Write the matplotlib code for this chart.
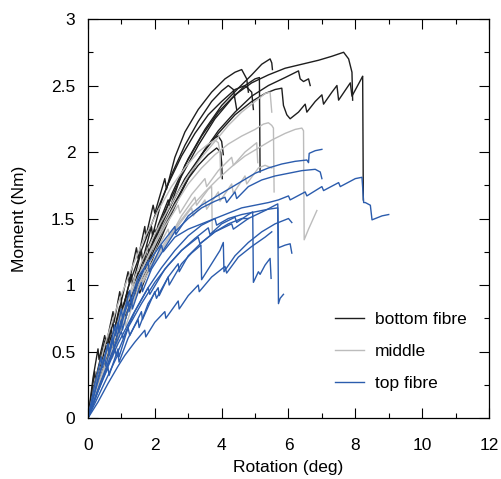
import matplotlib
matplotlib.use("Agg")
import matplotlib.pyplot as plt
from matplotlib.ticker import MultipleLocator, FuncFormatter

plt.rcParams['font.family'] = ['Liberation Sans', 'DejaVu Sans']
plt.rcParams['font.size'] = 12.5

# bottom fibre curves (rotation deg, moment Nm)
b1_x = [0, 0.2, 0.45, 0.48, 0.7, 0.73, 0.95, 0.98, 1.2, 1.23, 1.5, 1.53, 1.8, 1.84, 2.1, 2.4, 2.45, 2.9, 3.4, 3.9, 4.4, 4.9, 5.4, 5.9, 6.4, 6.9, 7.3, 7.65, 7.8, 7.9, 7.92]
b1_y = [0, 0.25, 0.5, 0.42, 0.62, 0.55, 0.78, 0.7, 0.92, 0.85, 1.1, 1.02, 1.3, 1.22, 1.45, 1.64, 1.58, 1.9, 2.12, 2.3, 2.43, 2.52, 2.58, 2.63, 2.66, 2.69, 2.72, 2.75, 2.7, 2.6, 2.39]
b2_x = [0, 0.15, 0.3, 0.33, 0.5, 0.55, 0.75, 0.78, 0.95, 1.0, 1.2, 1.23, 1.45, 1.5, 1.7, 1.73, 1.95, 2.0, 2.3, 2.35, 2.6, 2.9, 3.3, 3.7, 4.1, 4.4, 4.6, 4.75, 4.8]
b2_y = [0, 0.3, 0.52, 0.44, 0.62, 0.56, 0.8, 0.72, 0.95, 0.88, 1.1, 1.02, 1.28, 1.2, 1.44, 1.36, 1.6, 1.54, 1.8, 1.72, 1.96, 2.15, 2.32, 2.45, 2.55, 2.6, 2.62, 2.55, 2.45]
b3_x = [0, 0.25, 0.5, 0.55, 0.9, 1.2, 1.25, 1.6, 2.0, 2.05, 2.5, 3.0, 3.5, 4.0, 4.5, 4.9, 5.2, 5.45, 5.5, 5.52]
b3_y = [0, 0.28, 0.52, 0.46, 0.74, 0.95, 0.89, 1.15, 1.42, 1.36, 1.68, 1.95, 2.17, 2.35, 2.48, 2.58, 2.66, 2.7, 2.67, 2.62]
b4_x = [0, 0.3, 0.6, 0.63, 0.85, 0.88, 1.1, 1.13, 1.4, 1.43, 1.7, 1.73, 2.0, 2.4, 2.9, 3.4, 3.9, 4.4, 4.9, 5.3, 5.6, 5.8, 5.85, 5.95, 6.05, 6.3, 6.5, 6.55, 6.8, 7.0, 7.05, 7.3, 7.45, 7.5, 7.85, 7.9, 8.2, 8.22, 8.24]
b4_y = [0, 0.3, 0.55, 0.47, 0.68, 0.6, 0.82, 0.75, 1.0, 0.92, 1.18, 1.1, 1.34, 1.56, 1.8, 1.98, 2.14, 2.28, 2.38, 2.44, 2.47, 2.48, 2.35, 2.28, 2.25, 2.3, 2.36, 2.3, 2.38, 2.43, 2.36, 2.45, 2.5, 2.39, 2.52, 2.42, 2.56, 2.57, 1.64]
b5_x = [0, 0.2, 0.4, 0.45, 0.8, 1.1, 1.15, 1.5, 1.9, 2.3, 2.8, 3.3, 3.8, 4.3, 4.7, 5.0, 5.13, 5.15]
b5_y = [0, 0.22, 0.45, 0.4, 0.66, 0.86, 0.8, 1.05, 1.3, 1.55, 1.82, 2.05, 2.25, 2.4, 2.5, 2.55, 2.56, 1.85]
b6_x = [0, 0.3, 0.35, 0.7, 1.0, 1.05, 1.4, 1.8, 2.2, 2.6, 3.0, 3.3, 3.6, 3.85, 3.97, 4.0, 4.02]
b6_y = [0, 0.3, 0.26, 0.55, 0.76, 0.7, 0.95, 1.2, 1.42, 1.62, 1.8, 1.9, 1.98, 2.03, 2.0, 1.92, 1.8]
b7_x = [0, 0.25, 0.5, 0.53, 0.75, 0.78, 1.0, 1.03, 1.3, 1.33, 1.6, 1.63, 1.9, 1.93, 2.2, 2.5, 2.9, 3.3, 3.7, 4.0, 4.2, 4.35, 4.45]
b7_y = [0, 0.32, 0.58, 0.5, 0.72, 0.64, 0.88, 0.8, 1.08, 1.0, 1.26, 1.18, 1.44, 1.37, 1.63, 1.83, 2.05, 2.23, 2.38, 2.46, 2.5, 2.47, 2.32]
b8_x = [0, 0.35, 0.7, 0.75, 1.1, 1.5, 1.55, 2.0, 2.4, 2.8, 3.2, 3.5, 3.75, 3.9, 4.0, 4.05]
b8_y = [0, 0.28, 0.55, 0.48, 0.75, 1.0, 0.94, 1.24, 1.48, 1.7, 1.9, 2.02, 2.1, 2.12, 2.08, 1.98]
b9_x = [0, 0.3, 0.6, 0.65, 1.0, 1.4, 1.45, 1.9, 2.4, 2.9, 3.4, 3.9, 4.4, 4.9, 5.4, 5.9, 6.3, 6.35, 6.45, 6.6, 6.65]
b9_y = [0, 0.26, 0.5, 0.45, 0.72, 0.98, 0.92, 1.22, 1.5, 1.76, 1.98, 2.16, 2.3, 2.42, 2.5, 2.56, 2.61, 2.55, 2.53, 2.55, 2.5]
b10_x = [0, 0.2, 0.23, 0.45, 0.48, 0.7, 0.73, 0.95, 0.98, 1.2, 1.6, 2.0, 2.4, 2.8, 3.2, 3.6, 4.0, 4.4, 4.7, 4.9, 4.95]
b10_y = [0, 0.35, 0.28, 0.5, 0.43, 0.68, 0.6, 0.84, 0.76, 0.98, 1.26, 1.52, 1.76, 1.97, 2.14, 2.28, 2.38, 2.47, 2.5, 2.45, 2.32]

# middle curves
g1_x = [0, 0.3, 0.6, 0.65, 1.0, 1.4, 1.8, 2.2, 2.6, 3.0, 3.4, 3.8, 4.2, 4.6, 5.0, 5.25, 5.4, 5.5, 5.55, 5.57]
g1_y = [0, 0.3, 0.55, 0.5, 0.76, 1.0, 1.22, 1.42, 1.6, 1.76, 1.88, 1.98, 2.06, 2.12, 2.17, 2.21, 2.22, 2.2, 2.18, 1.7]
g2_x = [0, 0.35, 0.7, 0.73, 1.1, 1.13, 1.5, 1.9, 2.3, 2.7, 3.1, 3.5, 3.9, 4.3, 4.7, 5.1, 5.5, 5.9, 6.2, 6.4, 6.45, 6.47, 6.6, 6.85]
g2_y = [0, 0.28, 0.52, 0.45, 0.76, 0.69, 0.98, 1.16, 1.32, 1.46, 1.59, 1.7, 1.8, 1.89, 1.97, 2.03, 2.09, 2.14, 2.17, 2.18, 2.16, 1.34, 1.42, 1.56]
g3_x = [0, 0.3, 0.6, 0.63, 1.0, 1.03, 1.4, 1.8, 2.2, 2.6, 3.0, 3.4, 3.8, 4.2, 4.6, 5.0, 5.3, 5.45, 5.5]
g3_y = [0, 0.3, 0.55, 0.48, 0.82, 0.75, 1.06, 1.28, 1.48, 1.66, 1.82, 1.96, 2.08, 2.2, 2.3, 2.38, 2.44, 2.45, 2.3]
g4_x = [0, 0.4, 0.8, 1.2, 1.6, 2.0, 2.4, 2.45, 2.8, 3.2, 3.25, 3.6, 3.7, 3.72]
g4_y = [0, 0.32, 0.6, 0.84, 1.05, 1.24, 1.42, 1.36, 1.52, 1.66, 1.6, 1.72, 1.74, 1.4]
g5_x = [0, 0.3, 0.7, 1.1, 1.5, 1.9, 2.3, 2.7, 2.75, 3.1, 3.5, 3.55, 3.9, 4.3, 4.35, 4.7, 5.0, 5.05, 5.08]
g5_y = [0, 0.28, 0.58, 0.84, 1.06, 1.26, 1.44, 1.6, 1.54, 1.68, 1.8, 1.74, 1.86, 1.96, 1.9, 2.0, 2.06, 2.07, 1.92]
g6_x = [0, 0.25, 0.5, 0.9, 1.3, 1.7, 2.1, 2.5, 2.9, 3.3, 3.6, 3.8, 3.9, 3.95, 3.97]
g6_y = [0, 0.3, 0.55, 0.86, 1.12, 1.36, 1.56, 1.74, 1.88, 2.0, 2.06, 2.09, 2.07, 2.0, 1.82]
g7_x = [0, 0.4, 0.8, 1.2, 1.6, 2.0, 2.4, 2.8, 3.1, 3.15, 3.5, 3.55, 3.9, 3.95, 4.3, 4.35, 4.7, 4.75, 5.1, 5.3, 5.5]
g7_y = [0, 0.3, 0.56, 0.8, 1.0, 1.18, 1.34, 1.48, 1.58, 1.52, 1.64, 1.57, 1.7, 1.63, 1.76, 1.69, 1.82, 1.76, 1.88, 1.9, 1.88]

# top fibre curves
t1_x = [0, 0.2, 0.4, 0.43, 0.6, 0.63, 0.8, 0.83, 1.0, 1.03, 1.25, 1.28, 1.5, 1.8, 2.2, 2.6, 2.63, 3.0, 3.4, 3.8, 4.2, 4.6, 5.0, 5.4, 5.8, 6.2, 6.55, 6.6, 6.62, 6.8, 7.0]
t1_y = [0, 0.25, 0.46, 0.38, 0.56, 0.49, 0.7, 0.62, 0.82, 0.75, 0.96, 0.88, 1.06, 1.17, 1.31, 1.44, 1.38, 1.52, 1.6, 1.66, 1.72, 1.78, 1.84, 1.88, 1.91, 1.93, 1.94, 1.92, 1.99, 2.01, 2.02]
t2_x = [0, 0.3, 0.5, 0.53, 0.75, 0.78, 1.0, 1.03, 1.3, 1.33, 1.6, 1.63, 1.9, 2.2, 2.6, 3.0, 3.4, 3.8, 4.1, 4.15, 4.4, 4.45, 4.8, 5.2, 5.6, 6.0, 6.4, 6.8, 6.95, 7.0]
t2_y = [0, 0.28, 0.46, 0.39, 0.6, 0.52, 0.74, 0.66, 0.9, 0.82, 1.02, 0.95, 1.12, 1.24, 1.4, 1.5, 1.58, 1.63, 1.66, 1.62, 1.7, 1.65, 1.74, 1.79, 1.82, 1.84, 1.86, 1.87, 1.85, 1.8]
t3_x = [0, 0.35, 0.7, 1.0, 1.05, 1.4, 1.8, 2.2, 2.6, 3.0, 3.4, 3.8, 4.2, 4.6, 5.0, 5.4, 5.7, 6.0, 6.05, 6.5, 6.55, 7.0, 7.05, 7.5, 7.55, 8.0, 8.2, 8.25, 8.3, 8.45, 8.5, 8.8, 9.0]
t3_y = [0, 0.25, 0.48, 0.65, 0.6, 0.8, 0.98, 1.13, 1.26, 1.37, 1.45, 1.5, 1.54, 1.58, 1.6, 1.62, 1.64, 1.67, 1.64, 1.7, 1.67, 1.74, 1.71, 1.77, 1.74, 1.8, 1.81, 1.62, 1.62, 1.6, 1.49, 1.52, 1.53]
t4_x = [0, 0.4, 0.8, 0.85, 1.2, 1.6, 2.0, 2.4, 2.8, 3.2, 3.6, 3.65, 4.0, 4.4, 4.45, 4.8, 4.93, 4.95, 5.1, 5.15, 5.3, 5.45, 5.48]
t4_y = [0, 0.28, 0.52, 0.47, 0.68, 0.86, 1.02, 1.15, 1.26, 1.35, 1.43, 1.38, 1.46, 1.51, 1.47, 1.53, 1.55, 1.02, 1.1, 1.08, 1.15, 1.2, 1.05]
t5_x = [0, 0.45, 0.9, 1.35, 1.8, 1.85, 2.3, 2.8, 3.3, 3.35, 3.8, 4.3, 4.35, 4.8, 5.3, 5.6, 5.68, 5.7, 5.9, 6.05, 6.1]
t5_y = [0, 0.3, 0.56, 0.78, 0.98, 0.93, 1.12, 1.26, 1.36, 1.31, 1.4, 1.46, 1.42, 1.5, 1.56, 1.6, 1.61, 1.28, 1.3, 1.31, 1.24]
t6_x = [0, 0.3, 0.6, 0.63, 0.9, 0.93, 1.2, 1.23, 1.5, 1.8, 1.83, 2.2, 2.25, 2.6, 3.0, 3.4, 3.8, 3.85, 4.2, 4.6, 5.0, 5.4, 5.68, 5.7, 5.75, 5.85]
t6_y = [0, 0.3, 0.55, 0.47, 0.72, 0.64, 0.88, 0.8, 1.02, 1.18, 1.1, 1.3, 1.25, 1.36, 1.42, 1.46, 1.5, 1.45, 1.5, 1.53, 1.55, 1.57, 1.58, 0.86, 0.9, 0.93]
t7_x = [0, 0.3, 0.6, 0.9, 1.1, 1.4, 1.7, 1.73, 2.0, 2.3, 2.33, 2.7, 2.73, 3.0, 3.3, 3.33, 3.7, 4.1, 4.15, 4.5, 4.9, 5.3, 5.5]
t7_y = [0, 0.12, 0.26, 0.39, 0.47, 0.57, 0.66, 0.61, 0.72, 0.8, 0.75, 0.88, 0.82, 0.92, 1.0, 0.95, 1.06, 1.14, 1.09, 1.21, 1.29, 1.36, 1.4]
t8_x = [0, 0.3, 0.6, 0.63, 0.9, 0.93, 1.2, 1.25, 1.6, 1.63, 2.0, 2.05, 2.4, 2.43, 2.8, 3.1, 3.38, 3.4, 3.7, 3.95, 4.05, 4.07, 4.4, 4.8, 5.2, 5.6, 6.0, 6.1]
t8_y = [0, 0.2, 0.38, 0.32, 0.52, 0.46, 0.68, 0.62, 0.8, 0.74, 0.95, 0.9, 1.06, 1.0, 1.16, 1.24, 1.3, 1.04, 1.16, 1.26, 1.32, 1.1, 1.22, 1.32, 1.4, 1.46, 1.5, 1.47]
t9_x = [0, 0.3, 0.6, 0.9, 0.93, 1.2, 1.5, 1.53, 1.8, 2.1, 2.13, 2.4, 2.7, 2.73, 3.0, 3.4, 3.8, 4.2, 4.6, 4.8]
t9_y = [0, 0.16, 0.32, 0.48, 0.42, 0.6, 0.74, 0.68, 0.86, 0.98, 0.92, 1.06, 1.16, 1.1, 1.22, 1.32, 1.4, 1.46, 1.5, 1.5]

bottom = [(b1_x, b1_y), (b2_x, b2_y), (b3_x, b3_y), (b4_x, b4_y), (b5_x, b5_y),
          (b6_x, b6_y), (b7_x, b7_y), (b8_x, b8_y), (b9_x, b9_y), (b10_x, b10_y)]
middle = [(g1_x, g1_y), (g2_x, g2_y), (g3_x, g3_y), (g4_x, g4_y), (g5_x, g5_y),
          (g6_x, g6_y), (g7_x, g7_y)]
top = [(t1_x, t1_y), (t2_x, t2_y), (t3_x, t3_y), (t4_x, t4_y), (t5_x, t5_y),
       (t6_x, t6_y), (t7_x, t7_y), (t8_x, t8_y), (t9_x, t9_y)]

c_bot = '#1e1e1e'
c_mid = '#bcbcbc'
c_top = '#2b5cad'
lw = 1.0

fig = plt.figure(figsize=(5.01, 4.79), dpi=100)
ax = fig.add_axes([0.1756, 0.1273, 0.8004, 0.833])

for i, (x, y) in enumerate(bottom):
    ax.plot(x, y, color=c_bot, lw=lw, label='bottom fibre' if i == 0 else None)
for i, (x, y) in enumerate(middle):
    ax.plot(x, y, color=c_mid, lw=lw, label='middle' if i == 0 else None)
for i, (x, y) in enumerate(top):
    ax.plot(x, y, color=c_top, lw=lw, label='top fibre' if i == 0 else None)

ax.set_xlim(0, 12)
ax.set_ylim(0, 3)
ax.xaxis.set_major_locator(MultipleLocator(2))
ax.xaxis.set_minor_locator(MultipleLocator(1))
ax.yaxis.set_major_locator(MultipleLocator(0.5))
ax.yaxis.set_minor_locator(MultipleLocator(0.25))
fmt = FuncFormatter(lambda v, p: '%g' % v)
ax.xaxis.set_major_formatter(fmt)
ax.yaxis.set_major_formatter(fmt)
ax.tick_params(which='both', direction='in', top=True, right=True, width=0.8)
ax.tick_params(which='major', length=7.2)
ax.tick_params(which='minor', length=3.6)
ax.tick_params(axis='x', which='major', pad=14.5)
ax.tick_params(axis='y', which='major', pad=9)
for s in ax.spines.values():
    s.set_linewidth(0.9)

ax.set_xlabel('Rotation (deg)', labelpad=5)
ax.set_ylabel('Moment (Nm)', labelpad=17)

ax.legend(loc='upper left', bbox_to_anchor=(0.616, 0.267), frameon=False,
          borderpad=0, borderaxespad=0, handlelength=1.65, handletextpad=0.65,
          labelspacing=0.97)

fig.savefig('out.png', dpi=100)
